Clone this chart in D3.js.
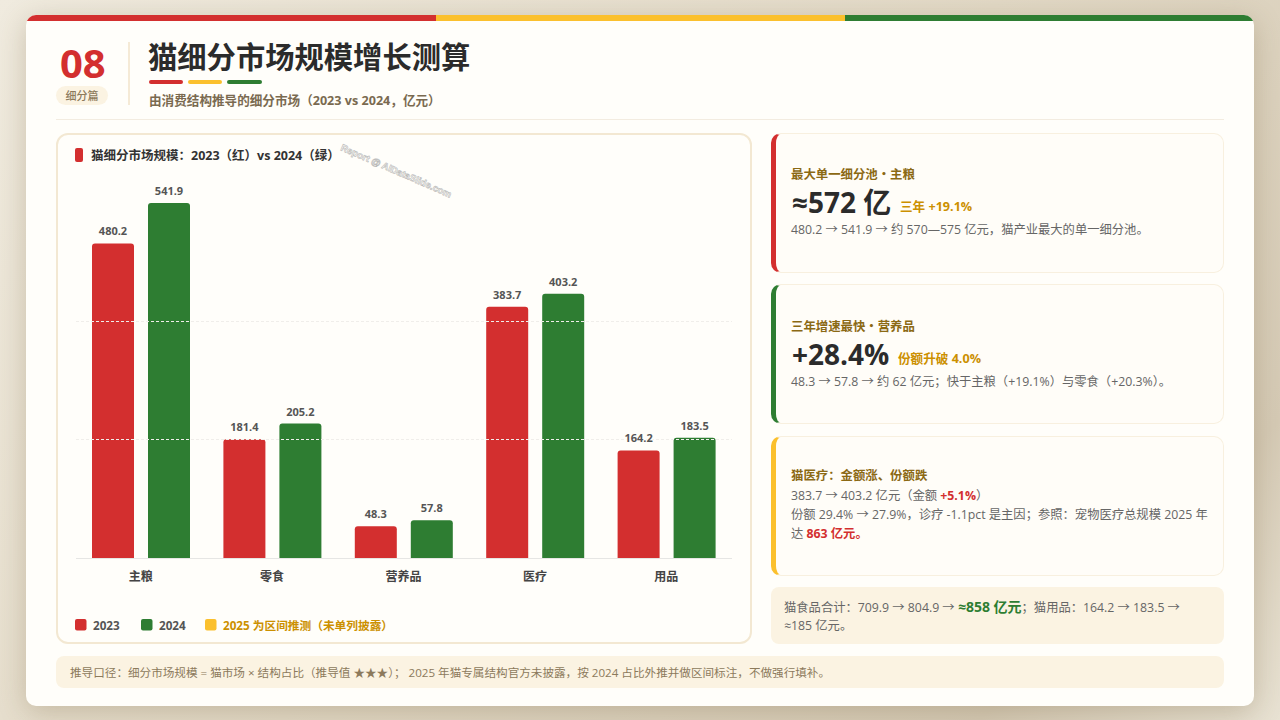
<!DOCTYPE html>
<html lang="zh"><head><meta charset="utf-8">
<script src="https://cdn.jsdelivr.net/npm/d3@7/dist/d3.min.js"></script>
<style>
*{box-sizing:border-box;margin:0;padding:0}
html,body{width:1280px;height:720px;overflow:hidden}
body{font-family:"Open Sans","Noto Sans CJK SC",sans-serif;background:linear-gradient(135deg,#f0ebdf 0%,#e2d9c6 50%,#d5cab5 85%,#e8e2d3 100%);position:relative}
.abs{position:absolute}
#page{left:26px;top:15px;width:1228px;height:691px;background:#fffefa;border-radius:10px;box-shadow:0 6px 28px rgba(110,90,50,.28);overflow:hidden}
.strip{top:0;height:6px}
.t{position:absolute;white-space:nowrap}
.kpi{position:absolute;left:771px;width:453px;background:#fffdf8;border:1.5px solid #f8f0df;border-left-width:5px;border-radius:10px}
.ink{color:#666;font-size:12.3px}
.lab{color:#8b6914;font-size:12.4px;font-weight:700}
.big{color:#2b2b2b;font-size:28px;font-weight:700}
.sub{color:#cc9000;font-size:12.6px;font-weight:700}
b.r{color:#d32f2f}b.g{color:#2e7d32}
</style></head><body>
<div class="abs" id="page">
  <div class="abs strip" style="left:0;width:410px;background:#d32f2f"></div>
  <div class="abs strip" style="left:410px;width:409px;background:#fbc02d"></div>
  <div class="abs strip" style="left:819px;width:409px;background:#2e7d32"></div>
</div>
<div class="t" style="left:60px;top:43px;font-size:40px;font-weight:700;color:#d32f2f;line-height:40px">08</div>
<div class="abs" style="left:56px;top:86px;width:52px;height:19px;background:#fbf3e2;border-radius:10px;color:#8c7a5c;font-size:11px;font-weight:500;text-align:center;line-height:19px">细分篇</div>
<div class="abs" style="left:128px;top:42px;width:2px;height:63px;background:#f5ead6"></div>
<div class="t" style="left:148px;top:36px;font-size:29.3px;font-weight:700;color:#2b2b2b;line-height:42px">猫细分市场规模增长测算</div>
<div class="abs" style="left:149px;top:80px;width:34px;height:4px;border-radius:2px;background:#d32f2f"></div>
<div class="abs" style="left:188px;top:80px;width:34px;height:4px;border-radius:2px;background:#fbc02d"></div>
<div class="abs" style="left:227px;top:80px;width:35px;height:4px;border-radius:2px;background:#2e7d32"></div>
<div class="t" style="left:149px;top:92px;font-size:12.6px;font-weight:700;color:#7a6a50;line-height:18px">由消费结构推导的细分市场（2023 vs 2024，亿元）</div>
<div class="abs" style="left:56px;top:119px;width:1168px;height:1px;background:#f3ece0"></div>

<div class="abs" style="left:56px;top:133px;width:696px;height:511px;background:#fffefa;border:2px solid #f3e8d2;border-radius:12px"></div>
<div class="abs" style="left:75px;top:148px;width:8px;height:14px;background:#d32f2f;border-radius:2px"></div>
<div class="t" style="left:91px;top:147px;font-size:12.5px;font-weight:700;color:#333;line-height:18px">猫细分市场规模：2023（红）vs 2024（绿）</div>
<svg id="chart" class="abs" style="left:0;top:0" width="1280" height="720"></svg>

<div class="kpi" style="top:133px;height:140px;border-left-color:#d32f2f"></div>
<div class="t lab" style="left:791px;top:166px;line-height:17px">最大单一细分池・主粮</div>
<div class="t big" style="left:792px;top:182px;line-height:40px">≈572 亿</div>
<div class="t sub" style="left:900px;top:198px;line-height:18px">三年 +19.1%</div>
<div class="t ink" style="left:791px;top:221px;line-height:18px">480.2 → 541.9 → 约 570—575 亿元，猫产业最大的单一细分池。</div>

<div class="kpi" style="top:284px;height:140px;border-left-color:#2e7d32"></div>
<div class="t lab" style="left:791px;top:318px;line-height:17px">三年增速最快・营养品</div>
<div class="t big" style="left:792px;top:334px;line-height:40px">+28.4%</div>
<div class="t sub" style="left:898px;top:350px;line-height:18px">份额升破 4.0%</div>
<div class="t ink" style="left:791px;top:373px;line-height:18px">48.3 → 57.8 → 约 62 亿元；快于主粮（+19.1%）与零食（+20.3%）。</div>

<div class="kpi" style="top:436px;height:140px;border-left-color:#fbc02d"></div>
<div class="t lab" style="left:791px;top:467px;line-height:17px">猫医疗：金额涨、份额跌</div>
<div class="t ink" style="left:791px;top:487px;line-height:18px">383.7 → 403.2 亿元（金额 <b class="r">+5.1%</b>）</div>
<div class="t ink" style="left:791px;top:506px;line-height:18px">份额 29.4% → 27.9%，诊疗 -1.1pct 是主因；参照：宠物医疗总规模 2025 年</div>
<div class="t ink" style="left:791px;top:525px;line-height:18px">达 <b class="r">863 亿元。</b></div>

<div class="abs" style="left:771px;top:587px;width:453px;height:57px;background:#fbf3e2;border-radius:8px"></div>
<div class="t ink" style="left:784px;top:598px;line-height:18px">猫食品合计：709.9 → 804.9 → <b class="g" style="font-size:14px">≈858 亿元</b>；猫用品：164.2 → 183.5 →</div>
<div class="t ink" style="left:784px;top:617px;line-height:18px">≈185 亿元。</div>

<div class="abs" style="left:56px;top:656px;width:1168px;height:32px;background:#fbf3e2;border-radius:8px"></div>
<div class="t" style="left:70px;top:664px;font-size:11.6px;color:#8c7a5c;line-height:17px">推导口径：细分市场规模 = 猫市场 × 结构占比（推导值 ★★★）； 2025 年猫专属结构官方未披露，按 2024 占比外推并做区间标注，不做强行填补。</div>

<script>
const categories=["主粮","零食","营养品","医疗","用品"];
const series2023=[480.2,181.4,48.3,383.7,164.2];
const series2024=[541.9,205.2,57.8,403.2,183.5];
const gridTicks=[180,360];
const seriesNames=["2023","2024"];
const seriesColors=["#d32f2f","#2e7d32"];
const legendNote="2025 为区间推测（未单列披露）";

const svg=d3.select("#chart");
const x=d3.scaleBand().domain(categories).range([76,733]).paddingInner(0).paddingOuter(0);
const sub=d3.scaleBand().domain(seriesNames).range([16,114]).paddingInner(0.25).paddingOuter(0);
const y=d3.scaleLinear().domain([0,541.9]).range([558,203]);
const font='"Open Sans","Noto Sans CJK SC",sans-serif';
const rounded=(px,py,w,h,r)=>`M${px},${py+h}V${py+r}Q${px},${py} ${px+r},${py}H${px+w-r}Q${px+w},${py} ${px+w},${py+r}V${py+h}Z`;

const barLayer=svg.append("g"), grid=svg.append("g"), labelLayer=svg.append("g");
[series2023,series2024].forEach((vals,si)=>{
  const bx=c=>x(c)+sub(seriesNames[si]);
  barLayer.append("g").selectAll("path").data(categories).join("path")
    .attr("d",(c,i)=>rounded(bx(c),y(vals[i]),sub.bandwidth(),y(0)-y(vals[i]),3))
    .attr("fill",seriesColors[si]);
  labelLayer.append("g").selectAll("text").data(categories).join("text")
    .attr("x",c=>bx(c)+sub.bandwidth()/2)
    .attr("y",(c,i)=>y(vals[i])-8)
    .attr("text-anchor","middle")
    .attr("font-family",font).attr("font-size",11).attr("font-weight",700).attr("fill","#555")
    .attr("paint-order","stroke").attr("stroke","#fffefa").attr("stroke-width",2)
    .text((c,i)=>vals[i].toFixed(1));
});

gridTicks.forEach(t=>{
  grid.append("line").attr("x1",76).attr("x2",732).attr("y1",Math.floor(y(t))-.5).attr("y2",Math.floor(y(t))-.5)
    .attr("stroke","#f0eeea").attr("stroke-width",1).attr("stroke-dasharray","3 2");
});

svg.append("line").attr("x1",76).attr("x2",732).attr("y1",558.5).attr("y2",558.5).attr("stroke","#e6e6e4").attr("stroke-width",1);
svg.append("g").selectAll("text").data(categories).join("text")
  .attr("x",c=>x(c)+x.bandwidth()/2-1).attr("y",581)
  .attr("text-anchor","middle").attr("font-family",font).attr("font-size",12).attr("font-weight",700).attr("fill","#444")
  .text(d=>d);

const legend=[{t:seriesNames[0],c:seriesColors[0],x:75,tc:"#555"},{t:seriesNames[1],c:seriesColors[1],x:141,tc:"#555"},{t:legendNote,c:"#fbc02d",x:205,tc:"#cc9000"}];
const lg=svg.append("g");
legend.forEach(d=>{
  lg.append("rect").attr("x",d.x).attr("y",619).attr("width",11.5).attr("height",11.5).attr("rx",2).attr("fill",d.c);
  lg.append("text").attr("x",d.x+18).attr("y",630).attr("font-family",font).attr("font-size",11.7).attr("font-weight",700).attr("fill",d.tc).text(d.t);
});

svg.append("text").attr("transform","translate(340,150) rotate(23.5)")
  .attr("font-family","Liberation Sans,Arial").attr("font-size",9.5).attr("font-weight",700)
  .attr("fill","#fffefa").attr("stroke","#aaa").attr("stroke-width",.6).attr("opacity",.8)
  .text("Report @ AIDataSlide.com");
</script>
</body></html>
